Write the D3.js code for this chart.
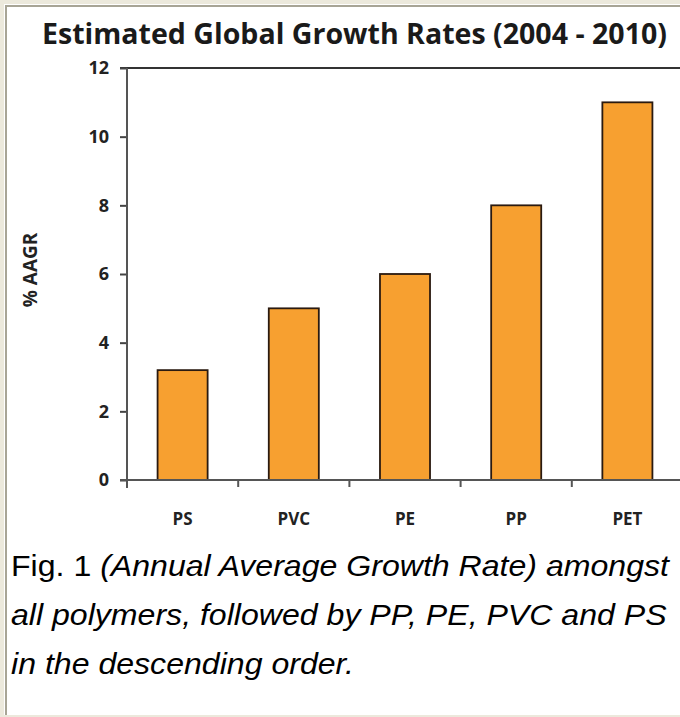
<!DOCTYPE html>
<html>
<head>
<meta charset="utf-8">
<script src="https://cdn.jsdelivr.net/npm/d3@7"></script>
<style>
  html, body { margin: 0; padding: 0; background: #fff; }
  svg { display: block; }
</style>
</head>
<body>
<div id="chart"></div>
<script>
'use strict';

// data
var categories = ['PS', 'PVC', 'PE', 'PP', 'PET'];
var growth = [3.2, 5, 6, 8, 11];
var yTicks = [0, 2, 4, 6, 8, 10, 12];
var captionLines = [
  [{ t: 'Fig. 1 ', it: false }, { t: '(Annual Average Growth Rate) amongst', it: true }],
  [{ t: 'all polymers, followed by PP, PE, PVC and PS', it: true }],
  [{ t: 'in the descending order.', it: true }]
];

var W = 680, H = 717;
var plotL = 127, plotR = 683, plotT = 68, plotB = 480;
var labelFont = '"Open Sans", "DejaVu Sans", sans-serif';

var svg = d3.select('#chart').append('svg')
  .attr('width', W)
  .attr('height', H);

/* frame */
svg.append('rect').attr('x', 0).attr('y', 0).attr('width', W).attr('height', H).style('fill', '#fff');
svg.append('rect').attr('x', 0).attr('y', 0).attr('width', 4).attr('height', H).style('fill', '#ece9dc');
svg.append('rect').attr('x', 0).attr('y', 0).attr('width', W).attr('height', 4).style('fill', '#ece9dc');
svg.append('rect').attr('x', 5).attr('y', 5).attr('width', 2).attr('height', H - 5).style('fill', '#a8a596');
svg.append('rect').attr('x', 5).attr('y', 5).attr('width', W - 5).attr('height', 2).style('fill', '#a8a596');
svg.append('rect').attr('x', 0).attr('y', H - 2).attr('width', W).attr('height', 2).style('fill', '#ece9dc');

/* scales */
var x = d3.scaleBand()
  .domain(categories)
  .range([plotL, plotR])
  .paddingInner(0.55)
  .paddingOuter(0.275);

var xCat = d3.scaleBand().domain(categories).range([plotL, plotR]).padding(0);

var y = d3.scaleLinear()
  .domain([0, 12])
  .range([plotB, plotT]);

/* title */
svg.append('text')
  .attr('x', 42)
  .attr('y', 44)
  .attr('textLength', 625)
  .attr('lengthAdjust', 'spacingAndGlyphs')
  .style('font-family', labelFont)
  .style('font-weight', 700)
  .style('font-size', '29px')
  .style('fill', '#1a1a1a')
  .text('Estimated Global Growth Rates (2004 - 2010)');

/* top frame line */
svg.append('line')
  .attr('x1', plotL - 7).attr('x2', W)
  .attr('y1', y(12)).attr('y2', y(12))
  .style('stroke', '#333').style('stroke-width', 2);

/* bars */
svg.selectAll('rect.bar')
  .data(categories)
  .enter().append('rect')
  .attr('class', 'bar')
  .attr('x', function (d) { return x(d); })
  .attr('y', function (d, i) { return y(growth[i]); })
  .attr('width', x.bandwidth())
  .attr('height', function (d, i) { return y(0) - y(growth[i]); })
  .style('fill', '#f7a030')
  .style('stroke', '#2a1a10')
  .style('stroke-width', 1.8);

/* y axis */
var yAxis = d3.axisLeft(y)
  .tickValues(yTicks)
  .tickSize(7)
  .tickPadding(11)
  .tickFormat(d3.format('d'));

var yg = svg.append('g')
  .attr('transform', 'translate(' + plotL + ',0)')
  .call(yAxis);
yg.select('.domain').remove();
yg.append('line')
  .attr('x1', 0).attr('x2', 0)
  .attr('y1', y(12)).attr('y2', plotB + 8)
  .style('stroke', '#555').style('stroke-width', 2);
yg.selectAll('.tick line').style('stroke', '#444').style('stroke-width', 2);
yg.selectAll('.tick text')
  .style('font-family', labelFont)
  .style('font-weight', 700)
  .style('font-size', '18px')
  .style('fill', '#222');

/* x axis */
svg.append('line')
  .attr('x1', plotL - 7).attr('x2', W)
  .attr('y1', plotB).attr('y2', plotB)
  .style('stroke', '#555').style('stroke-width', 2);

svg.selectAll('line.xtick')
  .data(categories.slice(1))
  .enter().append('line')
  .attr('class', 'xtick')
  .attr('x1', function (d) { return xCat(d); })
  .attr('x2', function (d) { return xCat(d); })
  .attr('y1', plotB).attr('y2', plotB + 7)
  .style('stroke', '#555').style('stroke-width', 2);

svg.selectAll('text.xlab')
  .data(categories)
  .enter().append('text')
  .attr('class', 'xlab')
  .attr('x', function (d) { return x(d) + x.bandwidth() / 2; })
  .attr('y', 525)
  .attr('text-anchor', 'middle')
  .style('font-family', labelFont)
  .style('font-weight', 700)
  .style('font-size', '17px')
  .style('fill', '#222')
  .text(function (d) { return d; });

/* y axis title */
svg.append('text')
  .attr('transform', 'translate(37,270) rotate(-90)')
  .attr('text-anchor', 'middle')
  .style('font-family', labelFont)
  .style('font-weight', 700)
  .style('font-size', '19px')
  .style('fill', '#222')
  .text('% AAGR');

/* caption, slightly stretched sideways like the source */
var cap = svg.append('g')
  .attr('transform', 'translate(11,0) scale(1.07,1)');
captionLines.forEach(function (line, i) {
  var t = cap.append('text')
    .attr('x', 0)
    .attr('y', 576 + i * 49)
    .style('font-family', '"Liberation Sans", Arial, sans-serif')
    .style('font-size', '30px')
    .style('fill', '#000');
  line.forEach(function (part) {
    t.append('tspan')
      .style('font-style', part.it ? 'italic' : 'normal')
      .text(part.t);
  });
});
</script>
</body>
</html>
